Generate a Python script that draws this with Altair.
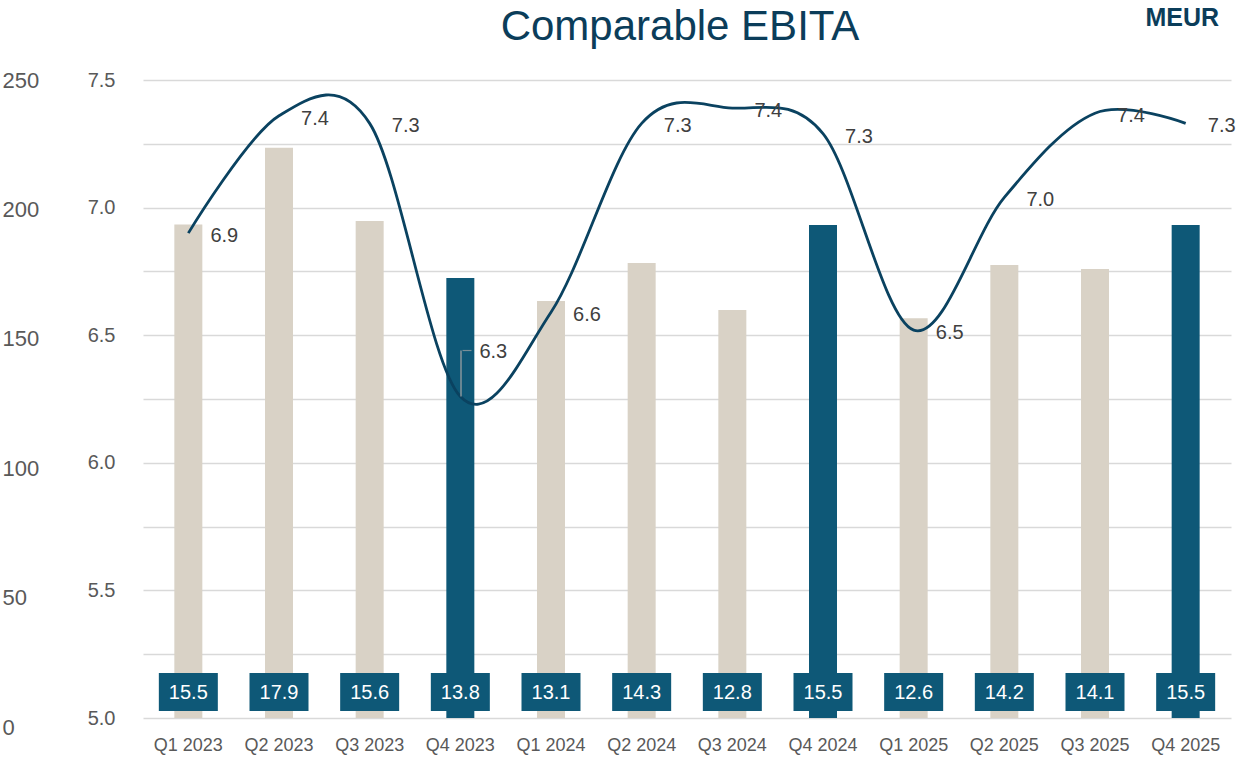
import altair as alt
import pandas as pd

quarters = ["Q1 2023", "Q2 2023", "Q3 2023", "Q4 2023",
            "Q1 2024", "Q2 2024", "Q3 2024", "Q4 2024",
            "Q1 2025", "Q2 2025", "Q3 2025", "Q4 2025"]
bar_values = [194.2, 223.8, 195.5, 173.5, 164.6, 179.3, 161.1, 194.0, 157.9, 178.5, 177.0, 194.0]
ebita = [15.5, 17.9, 15.6, 13.8, 13.1, 14.3, 12.8, 15.5, 12.6, 14.2, 14.1, 15.5]
margin = [6.9, 7.36, 7.33, 6.26, 6.59, 7.33, 7.39, 7.29, 6.52, 7.04, 7.37, 7.33]

df = pd.DataFrame({"q": quarters, "bar": bar_values, "ebita": ebita, "m": margin})

DARK = "#0e5877"
BEIGE = "#d9d2c6"
LINE = "#0a4260"
FONT = "Liberation Sans"

W, H = 1088, 638

xenc = alt.X("q:N", sort=quarters, title=None,
             scale=alt.Scale(paddingInner=0, paddingOuter=0),
             axis=alt.Axis(labelAngle=0, labelFontSize=18, labelColor="#595959",
                           labelPadding=18, domain=False, ticks=False, labelFont=FONT))

base = alt.Chart(df)

bars = base.mark_bar(size=28, clip=True).encode(
    x=xenc,
    y=alt.Y("bar:Q", title=None,
            scale=alt.Scale(domain=[0, 250], range=[647, 0], nice=False),
            axis=alt.Axis(orient="left", values=[0, 50, 100, 150, 200, 250], grid=False,
                          domain=False, ticks=False, labelAlign="left", labelPadding=141,
                          labelFontSize=22, labelColor="#595959", labelFont=FONT)),
    color=alt.condition("indexof(datum.q, 'Q4') === 0", alt.value(DARK), alt.value(BEIGE)),
)

boxes = base.mark_bar(size=59, color=DARK).encode(
    x=alt.X("q:N", sort=quarters),
    y=alt.value(593), y2=alt.value(631),
)
box_text = base.mark_text(color="white", fontSize=20, font=FONT, baseline="middle").encode(
    x=alt.X("q:N", sort=quarters),
    y=alt.value(613),
    text=alt.Text("ebita:Q", format=".1f"),
)

bar_group = alt.layer(bars, boxes, box_text)

line = base.mark_line(interpolate="cardinal", color=LINE, strokeWidth=2.8).encode(
    x=alt.X("q:N", sort=quarters),
    y=alt.Y("m:Q", title=None,
            scale=alt.Scale(domain=[5.0, 7.5], nice=False, zero=False),
            axis=alt.Axis(orient="left", values=[5.0, 5.25, 5.5, 5.75, 6.0, 6.25, 6.5, 6.75, 7.0, 7.25, 7.5],
                          labelExpr="round(datum.value*4) % 2 == 0 ? format(datum.value, '.1f') : ''",
                          grid=True, gridColor="#d9d9d9", gridWidth=1.5,
                          domain=False, ticks=False, labelPadding=28,
                          labelFontSize=20, labelColor="#595959", labelFont=FONT)),
)

labels = base.mark_text(dx=36, dy=3, fontSize=20, color="#404040", font=FONT,
                        baseline="middle").encode(
    x=alt.X("q:N", sort=quarters),
    y="m:Q",
    text=alt.Text("m:Q", format=".1f"),
).transform_filter("datum.q != 'Q4 2023'")

label_q4 = base.mark_text(dx=33, dy=-44, fontSize=20, color="#404040", font=FONT,
                          baseline="middle").encode(
    x=alt.X("q:N", sort=quarters),
    y="m:Q",
    text=alt.Text("m:Q", format=".1f"),
).transform_filter("datum.q == 'Q4 2023'")

leader = base.mark_rule(color="#a6a6a6", strokeWidth=1.2).encode(
    x=alt.X("q:N", sort=quarters),
    xOffset=alt.value(46),
    y="m:Q",
    y2="top:Q",
).transform_filter("datum.q == 'Q4 2023'").transform_calculate(top="datum.m + 0.18")

leader_h = base.mark_tick(color="#a6a6a6", thickness=1.2, size=9, orient="horizontal").encode(
    x=alt.X("q:N", sort=quarters),
    xOffset=alt.value(52),
    y="top:Q",
).transform_filter("datum.q == 'Q4 2023'").transform_calculate(top="datum.m + 0.18")

line_group = alt.layer(line, leader, leader_h, labels, label_q4)

ann = pd.DataFrame({"t": ["Comparable EBITA"]})
title_txt = alt.Chart(ann).mark_text(
    fontSize=42, color="#0b3d5a", font=FONT, align="center", baseline="alphabetic").encode(
    x=alt.value(537), y=alt.value(-40), text="t:N")

meur = alt.Chart(pd.DataFrame({"t": ["MEUR"]})).mark_text(
    fontSize=25, fontWeight="bold", color="#0b3d5a", font=FONT, align="right",
    baseline="alphabetic").encode(
    x=alt.value(1076), y=alt.value(-54), text="t:N")

chart = alt.layer(bar_group, line_group, title_txt, meur).resolve_scale(y="independent").properties(
    width=W, height=H,
    autosize=alt.AutoSizeParams(type="none"),
    padding={"left": 143, "top": 80, "right": 14, "bottom": 49},
).configure_view(stroke=None)

chart.save("out.html", embed_options={"renderer": "svg", "actions": False})
